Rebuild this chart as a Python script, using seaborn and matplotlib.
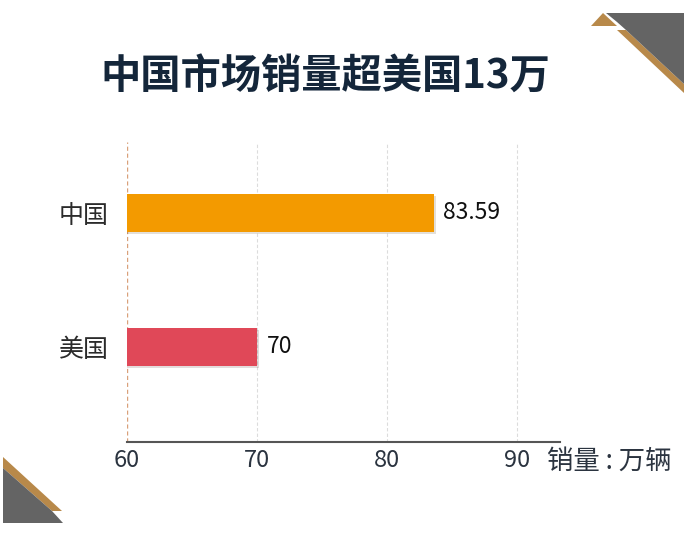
import matplotlib
matplotlib.use('Agg')
import matplotlib.pyplot as plt
import matplotlib.patheffects as pe
from matplotlib.patches import Polygon
import pandas as pd
import seaborn as sns

# 数据
countries = ['中国', '美国']
sales = [83.59, 70]
bar_colors = ['#F39A00', '#E04858']
x_ticks = [60, 70, 80, 90]

sns.set_theme(style='white')
plt.rcParams['font.family'] = ['Noto Sans CJK SC', 'DejaVu Sans']
plt.rcParams['axes.unicode_minus'] = False

df = pd.DataFrame({'country': countries, 'sales': sales})

fig = plt.figure(figsize=(6.84, 5.33), dpi=100)
ax = fig.add_axes([0.1857, 0.1707, 0.633, 0.563])

sns.barplot(data=df, x='sales', y='country', hue='country',
            palette=bar_colors, orient='h', width=0.28, legend=False,
            saturation=1, linewidth=0, ax=ax)

# 柱子阴影
for bar in ax.patches:
    bar.set_path_effects([pe.SimplePatchShadow(offset=(1.5, -1.5), alpha=0.15),
                          pe.Normal()])

ax.set_xlim(60, 93.3)
ax.set_ylim(1.71, -0.53)
ax.set_xticks(x_ticks)
ax.set_xticklabels([str(t) for t in x_ticks])
ax.tick_params(axis='x', length=0, pad=5, labelsize=17, labelcolor='#2b3440')
ax.tick_params(axis='y', length=0, pad=13, labelsize=18, labelcolor='#2b2b2b')
ax.set_xlabel('')
ax.set_ylabel('')

# 网格线
for t in x_ticks:
    if t == 60:
        ax.axvline(t, color='#d9a07a', linestyle=(0, (3, 2)), linewidth=1.0, zorder=0)
    else:
        ax.axvline(t, color='#dcdcdc', linestyle=(0, (3, 2)), linewidth=0.8, zorder=0)

for side in ['top', 'right', 'left']:
    ax.spines[side].set_visible(False)
ax.spines['bottom'].set_color('#555555')
ax.spines['bottom'].set_linewidth(1.5)

# 数值标签
for cont in ax.containers:
    ax.bar_label(cont, labels=[f'{v:g}' for v in cont.datavalues],
                 padding=7, fontsize=16.5, color='#111111')

# 单位
fig.text(547 / 684, 1 - 461 / 533, '销量 : 万辆', fontsize=19, color='#2b3440',
         ha='left', va='center')

# 标题
fig.text(325 / 684, 1 - 76 / 533, '中国市场销量超美国13万', fontsize=29,
         fontweight='bold', color='#14263a', ha='center', va='center')

# 角落装饰
W, H = 684, 533


def corner(points, color):
    pts = [(x / W, 1 - y / H) for x, y in points]
    fig.patches.append(Polygon(pts, closed=True, transform=fig.transFigure,
                               facecolor=color, edgecolor='none'))


gold = '#B8894A'
grey = '#646464'
corner([(591, 26), (603, 13), (617, 26)], gold)
corner([(617, 30), (626, 30), (684, 84), (684, 93)], gold)
corner([(606, 13), (684, 13), (684, 84), (626, 30), (617, 22)], grey)

corner([(3, 457), (62, 511), (52, 511), (3, 468)], gold)
corner([(3, 468), (52, 511), (63, 523), (3, 523)], grey)

fig.savefig('out.png', dpi=100)
